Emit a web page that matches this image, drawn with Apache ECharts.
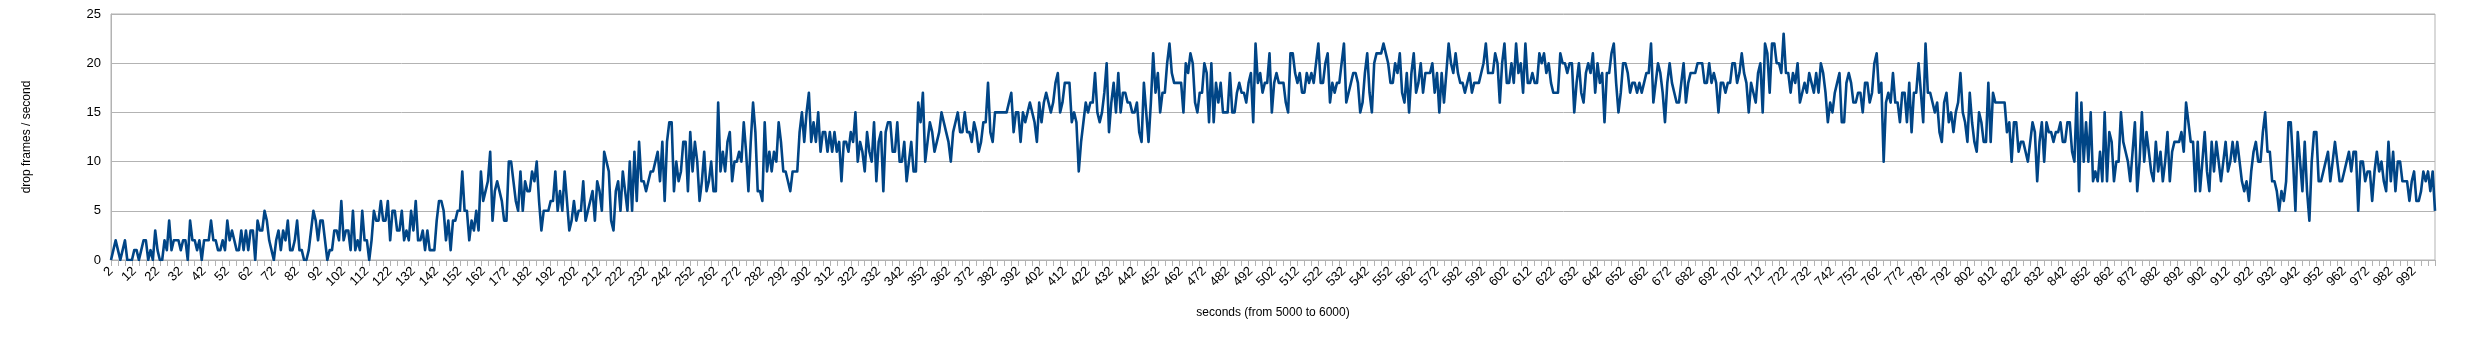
<!DOCTYPE html>
<html>
<head>
<meta charset="utf-8">
<script src="https://cdn.jsdelivr.net/npm/echarts@6/dist/echarts.min.js"></script>
<style>
html,body{margin:0;padding:0;background:#fff;}
#chart{width:2485px;height:340px;}
</style>
</head>
<body>
<div id="chart"></div>
<script>
// categories: seconds 2..1001
var firstSecond = 2;
var lastSecond = 1001;
var categories = [];
for (var s = firstSecond; s <= lastSecond; s++) categories.push(String(s));

var yTicks = [0, 5, 10, 15, 20, 25];
var yAxisTitle = 'drop frames / second';
var xAxisTitle = 'seconds (from 5000 to 6000)';

// drop frames per second
var dropFrames = [
0,1,2,1,0,1,2,0,0,0,
1,1,0,1,2,2,0,1,0,3,
1,0,0,2,1,4,1,2,2,2,
1,2,2,0,4,2,2,1,2,0,
2,2,2,4,2,2,1,1,2,1,
4,2,3,2,1,1,3,1,3,1,
3,3,0,4,3,3,5,4,2,1,
0,2,3,1,3,2,4,1,1,2,
4,1,1,0,0,1,3,5,4,2,
4,4,2,0,1,1,3,3,2,6,
2,3,3,1,5,1,2,1,5,2,
2,0,2,5,4,4,6,4,4,6,
2,5,5,3,3,5,2,3,2,5,
3,6,2,2,3,1,3,1,1,1,
4,6,6,5,2,4,1,4,4,5,
5,9,5,5,2,4,3,5,3,9,
6,7,8,11,4,7,8,7,6,4,
4,10,10,8,6,5,9,5,8,7,
7,9,8,10,6,3,5,5,5,6,
6,9,5,7,5,9,6,3,4,6,
4,5,5,8,4,5,6,7,4,8,
7,5,11,10,9,4,3,7,8,5,
9,7,5,10,5,11,6,12,8,8,
7,8,9,9,10,11,8,12,6,12,
14,14,7,10,8,9,12,12,7,13,
9,12,10,6,8,11,7,8,10,7,
7,16,9,11,9,12,13,8,10,10,
11,10,14,11,7,12,16,13,7,7,
6,14,9,11,9,11,10,14,12,9,
9,8,7,9,9,9,13,15,12,15,
17,12,14,12,15,11,13,13,11,13,
11,13,11,12,8,12,12,11,13,12,
15,10,12,11,9,13,11,10,14,8,
12,13,7,13,14,14,11,11,14,10,
10,12,8,10,12,9,9,16,14,17,
10,12,14,13,11,12,13,15,14,13,
12,10,13,14,15,13,13,15,13,13,
12,14,13,11,12,14,14,18,13,12,
15,15,15,15,15,15,16,17,13,15,
15,12,15,14,15,16,15,14,12,16,
14,16,17,16,15,16,18,19,15,16,
18,18,18,14,15,14,9,12,14,16,
15,16,16,19,15,14,15,17,20,13,
16,18,15,19,15,17,17,16,16,15,
15,16,13,12,18,15,12,16,21,17,
19,15,17,17,20,22,19,18,18,18,
18,15,20,19,21,20,16,15,17,17,
20,19,14,20,14,18,16,18,15,15,
15,19,15,15,17,18,17,17,16,18,
19,14,22,18,19,17,18,18,21,15,
18,19,18,18,18,16,15,21,21,19,
18,19,17,17,19,18,19,18,20,22,
18,18,20,21,16,18,17,18,18,20,
22,16,17,18,19,19,18,15,16,19,
21,17,15,20,21,21,21,22,21,20,
18,18,20,19,21,17,16,19,15,19,
21,17,18,20,17,19,19,19,20,17,
19,15,19,16,19,22,20,19,21,19,
18,18,17,18,19,17,18,18,18,19,
20,22,19,19,19,21,20,16,20,22,
18,18,20,18,22,19,20,17,22,18,
18,19,18,18,21,20,21,19,20,18,
17,17,17,21,20,20,19,20,20,15,
18,20,17,16,19,20,19,21,17,20,
18,19,14,19,19,21,22,18,15,17,
20,20,19,17,18,18,17,18,17,18,
19,19,22,16,18,20,19,17,14,18,
20,18,17,16,16,18,20,16,18,19,
19,19,20,20,20,18,18,20,18,19,
18,15,18,18,17,18,18,20,20,18,
19,21,19,18,15,18,17,16,19,20,
15,22,21,17,22,22,20,20,19,23,
19,19,17,19,18,20,16,17,18,17,
19,18,17,19,17,20,19,17,14,16,
15,17,18,19,14,14,18,19,18,16,
16,17,17,15,18,18,16,17,20,21,
17,18,10,16,17,16,19,16,16,14,
17,17,14,18,13,17,17,20,17,14,
22,17,17,16,15,16,13,12,16,17,
14,15,13,15,16,19,15,14,12,17,
14,12,11,15,14,12,12,18,12,17,
16,16,16,16,16,13,14,10,14,14,
11,12,12,11,10,12,14,13,8,12,
14,10,14,13,13,12,13,13,14,12,
12,14,14,11,10,17,7,16,10,14,
10,15,8,9,8,11,8,15,8,13,
12,8,10,10,15,12,11,10,8,11,
14,7,10,15,10,13,11,9,8,12,
9,11,8,10,13,8,11,12,12,12,
13,11,16,14,12,12,7,12,7,10,
13,9,7,12,9,12,10,8,10,12,
9,10,12,10,12,10,8,7,8,6,
9,11,12,10,10,13,15,11,11,8,
8,7,5,7,6,8,14,14,10,5,
13,10,7,12,7,4,10,13,13,8,
8,9,10,11,8,10,12,10,8,8,
9,10,11,9,11,11,5,10,10,8,
9,9,6,9,11,9,10,8,7,12,
8,11,7,10,10,8,8,8,6,8,
9,6,6,7,9,8,9,7,9,5
];

var FONT = '"Liberation Sans", Arial, sans-serif';
var chart = echarts.init(document.getElementById('chart'), null, {renderer: 'canvas'});
chart.setOption({
  animation: false,
  backgroundColor: '#ffffff',
  grid: {left: 111, right: 50, top: 14, bottom: 80, show: true, borderColor: '#b3b3b3', borderWidth: 1, backgroundColor: 'transparent'},
  xAxis: {
    type: 'category',
    data: categories,
    boundaryGap: false,
    name: xAxisTitle,
    nameLocation: 'middle',
    nameGap: 47,
    nameTextStyle: {fontFamily: FONT, fontSize: 12, color: '#000'},
    axisLine: {show: true, lineStyle: {color: '#b3b3b3', width: 1}},
    axisTick: {show: true, interval: 2, length: 6, lineStyle: {color: '#b3b3b3'}},
    axisLabel: {interval: 9, rotate: 45, fontFamily: FONT, fontSize: 13, color: '#000', margin: 9},
    splitLine: {show: false}
  },
  yAxis: {
    type: 'value',
    min: yTicks[0],
    max: yTicks[yTicks.length - 1],
    interval: 5,
    name: yAxisTitle,
    nameLocation: 'middle',
    nameGap: 78,
    nameRotate: 90,
    nameTextStyle: {fontFamily: FONT, fontSize: 12, color: '#000'},
    axisLine: {show: true, lineStyle: {color: '#b3b3b3'}},
    axisTick: {show: false},
    axisLabel: {fontFamily: FONT, fontSize: 13, color: '#000', margin: 10},
    splitLine: {show: true, lineStyle: {color: '#b3b3b3', width: 1}}
  },
  series: [{
    type: 'line',
    data: dropFrames,
    showSymbol: false,
    symbol: 'none',
    lineStyle: {color: '#004586', width: 2.6, join: 'round'},
    itemStyle: {color: '#004586'}
  }]
});
</script>
</body>
</html>
